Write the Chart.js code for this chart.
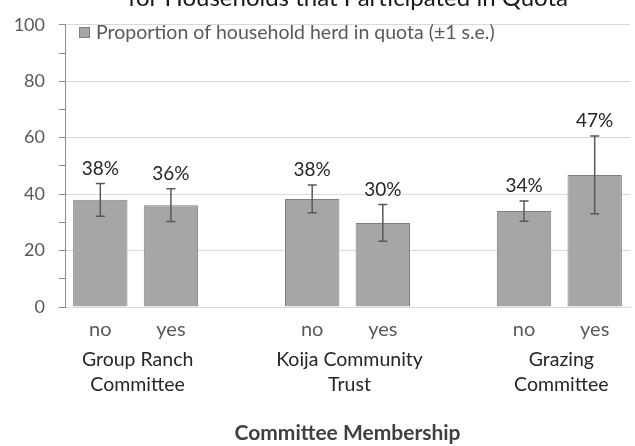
<!DOCTYPE html>
<html>
<head>
<meta charset="utf-8">
<script src="https://cdn.jsdelivr.net/npm/chart.js@4"></script>
<style>
  html, body { margin: 0; padding: 0; background: #fff; }
  #wrap { width: 635px; height: 446px; }
</style>
</head>
<body>
<div id="wrap"><canvas id="quotaChart"></canvas></div>
<script>
// categories: blank slots give the gaps between committees
const categories = ['no', 'yes', '', 'no', 'yes', '', 'no', 'yes'];
const groupNames = [['Group Ranch', 'Committee'], ['Koija Community', 'Trust'], ['Grazing', 'Committee']];
const groupSlots = [[0, 1], [3, 4], [6, 7]];
const proportion = [38.0, 36.1, null, 38.3, 29.8, null, 34.0, 46.8];
const stdError = [5.8, 5.8, null, 4.9, 6.5, null, 3.6, 13.8];
const yTicks = [0, 20, 40, 60, 80, 100];

const FONT = 'Lato, "Open Sans", sans-serif';

// error bars, value labels, legend, title and committee names
const extras = {
    id: 'extras',
    afterDatasetsDraw(chart) {
        const ctx = chart.ctx;
        const y = chart.scales.y;
        const x = chart.scales.x;
        const meta = chart.getDatasetMeta(0);
        ctx.save();

        // error bars
        ctx.strokeStyle = '#595959';
        ctx.lineWidth = 1.5;
        meta.data.forEach(function (bar, i) {
            if (proportion[i] == null) return;
            const top = y.getPixelForValue(proportion[i] + stdError[i]);
            const bot = y.getPixelForValue(proportion[i] - stdError[i]);
            ctx.beginPath();
            ctx.moveTo(bar.x, top); ctx.lineTo(bar.x, bot);
            ctx.moveTo(bar.x - 4.5, top); ctx.lineTo(bar.x + 4.5, top);
            ctx.moveTo(bar.x - 4.5, bot); ctx.lineTo(bar.x + 4.5, bot);
            ctx.stroke();
        });

        // value labels
        ctx.fillStyle = '#262626';
        ctx.font = '19px ' + FONT;
        ctx.textAlign = 'center';
        ctx.textBaseline = 'middle';
        meta.data.forEach(function (bar, i) {
            if (proportion[i] == null) return;
            const top = y.getPixelForValue(proportion[i] + stdError[i]);
            ctx.fillText(Math.round(proportion[i]) + '%', bar.x, top - 15);
        });

        // committee names under the no/yes labels
        ctx.font = '19.5px ' + FONT;
        groupNames.forEach(function (lines, g) {
            const cx = (x.getPixelForValue(groupSlots[g][0]) + x.getPixelForValue(groupSlots[g][1])) / 2;
            lines.forEach(function (line, k) {
                ctx.fillText(line, cx + 2, 360 + k * 24.5);
            });
        });

        // legend inside plot area
        const lx = chart.chartArea.left + 14;
        ctx.fillStyle = '#a6a6a6';
        ctx.strokeStyle = '#7f7f7f';
        ctx.lineWidth = 1;
        ctx.fillRect(lx, 27, 11, 11);
        ctx.strokeRect(lx + 0.5, 27.5, 10, 10);
        ctx.fillStyle = '#595959';
        ctx.font = '19.5px ' + FONT;
        ctx.textAlign = 'left';
        ctx.fillText('Proportion of household herd in quota (\u00b11 s.e.)', lx + 17, 32.5);

        // second line of the title, cut off at the top
        ctx.fillStyle = '#1a1a1a';
        ctx.font = '24px ' + FONT;
        ctx.textAlign = 'center';
        ctx.textBaseline = 'alphabetic';
        ctx.fillText('for Households that Participated in Quota', 348, 6);
        ctx.restore();
    }
};

new Chart(document.getElementById('quotaChart'), {
    type: 'bar',
    data: {
        labels: categories,
        datasets: [{
            label: 'Proportion of household herd in quota (\u00b11 s.e.)',
            data: proportion,
            backgroundColor: '#a6a6a6',
            borderColor: '#7f7f7f',
            borderWidth: 1,
            categoryPercentage: 1,
            barPercentage: 0.77
        }]
    },
    options: {
        responsive: true,
        maintainAspectRatio: false,
        animation: false,
        layout: { padding: { top: 16, right: 5, left: 0, bottom: 0 } },
        plugins: {
            legend: { display: false },
            tooltip: { enabled: false }
        },
        scales: {
            x: {
                grid: { display: false, drawTicks: false },
                border: { color: '#d9d9d9' },
                ticks: { color: '#595959', font: { family: FONT, size: 20 }, padding: 11, maxRotation: 0 },
                title: {
                    display: true,
                    text: 'Committee Membership',
                    color: '#404040',
                    font: { family: FONT, size: 21, weight: 'bold' },
                    padding: { top: 0, bottom: 0 }
                },
                afterFit(scale) { scale.height = 139; }
            },
            y: {
                min: 0,
                max: 100,
                ticks: {
                    stepSize: 10,
                    color: '#595959',
                    font: { family: FONT, size: 18 },
                    padding: 14,
                    callback: function (v) { return yTicks.includes(v) ? String(v) : ''; }
                },
                grid: {
                    color: function (c) { return c.tick && yTicks.includes(c.tick.value) ? '#d9d9d9' : 'rgba(0,0,0,0)'; },
                    tickColor: '#8c8c8c',
                    tickLength: 6
                },
                border: { color: '#8c8c8c' },
                afterFit(scale) { scale.width = 65; }
            }
        }
    },
    plugins: [extras]
});
</script>
</body>
</html>
